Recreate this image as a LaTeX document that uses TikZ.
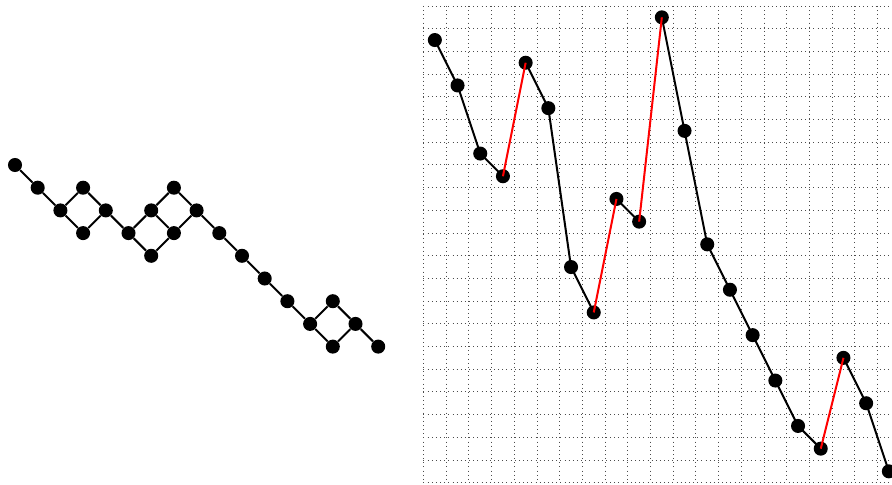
\documentclass[tikz,border=0pt]{standalone}
\begin{document}
\begin{tikzpicture}[x=0.5cm,y=-0.5cm,
  dot/.style={circle,fill=black,inner sep=0pt,minimum size=8.8pt},
  seg/.style={line width=1.25pt,black},
  upseg/.style={line width=1.25pt,red},
  gridline/.style={dotted,line width=0.6pt,black!70}]
\useasboundingbox (0,0) rectangle (39.295,21.322);
\clip (0,0) rectangle (39.295,21.322);
% ---- grid ----
\foreach \k in {0,...,21} {
  \draw[gridline] (18.656+\k,0.264) -- (18.656+\k,21.264);
  \draw[gridline] (18.656,0.264+\k) -- (39.656,0.264+\k);
}
% ---- left lattice diagram ----
\foreach \n/\i/\l in {a/0/0,b/1/1,c/2/2,d/3/1,e/3/3,f/4/2,g/5/3,h/6/2,i/6/4,j/7/1,k/7/3,l/8/2,m/9/3,n/10/4,o/11/5,p/12/6,q/13/7,r/14/6,s/14/8,t/15/7,u/16/8}
  \node[dot] (L\n) at (0.661+\i,7.269+\l) {};
\foreach \u/\v in {a/b,b/c,c/d,c/e,d/f,e/f,f/g,g/h,g/i,h/j,h/k,i/k,j/l,k/l,l/m,m/n,n/o,o/p,p/q,q/r,q/s,r/t,s/t,t/u}
  \draw[seg] (L\u) -- (L\v);
% ---- right permutation path ----
\foreach \l [count=\c from 0] in {1,3,6,7,2,4,11,13,8,9,0,5,10,12,14,16,18,19,15,17,20}
  \node[dot] (R\c) at (19.156+\c,0.764+\l) {};
\foreach \u/\v in {0/1,1/2,2/3,4/5,5/6,6/7,8/9,10/11,11/12,12/13,13/14,14/15,15/16,16/17,18/19,19/20}
  \draw[seg] (R\u.center) -- (R\v.center);
\foreach \u/\v in {3/4,7/8,9/10,17/18}
  \draw[upseg] (R\u.center) -- (R\v.center);
\end{tikzpicture}
\end{document}
